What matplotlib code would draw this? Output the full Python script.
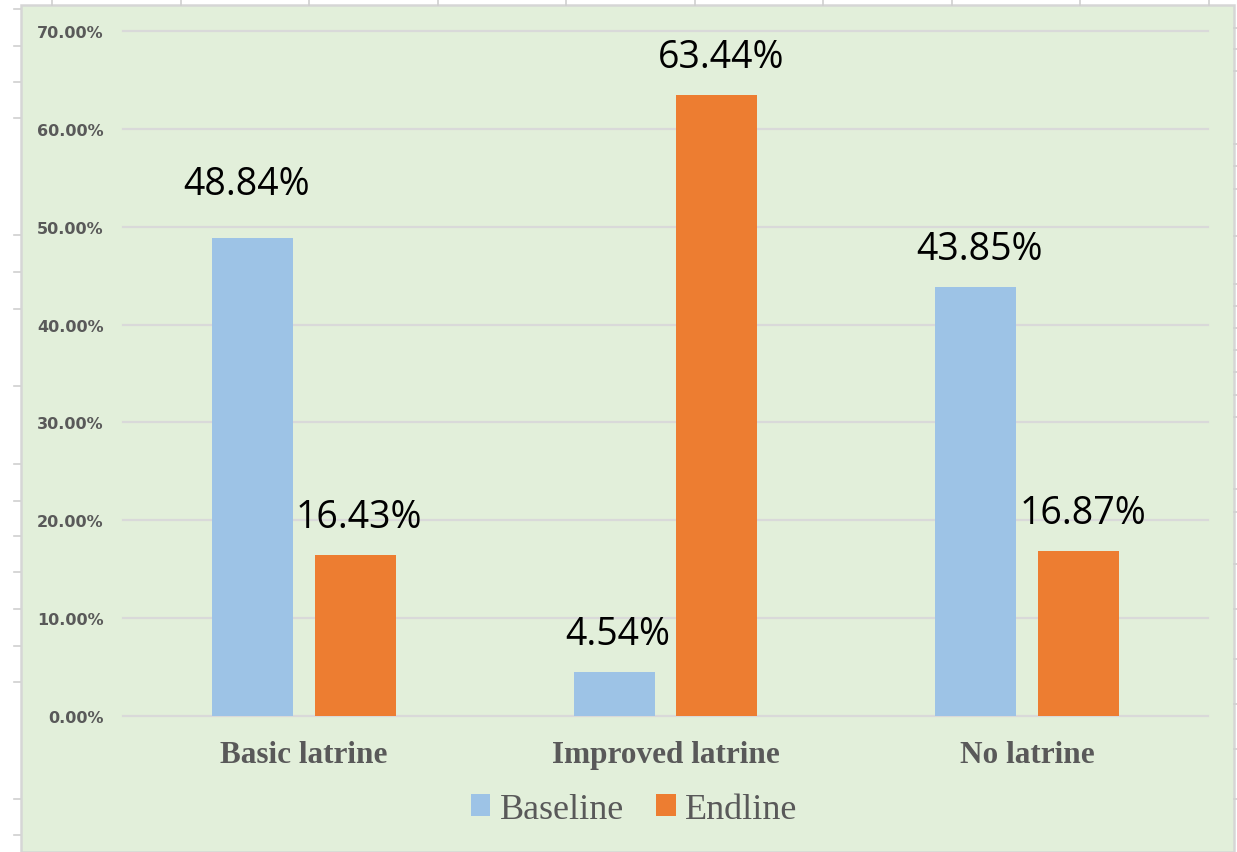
import matplotlib
matplotlib.use("Agg")
import matplotlib.pyplot as plt
from matplotlib.patches import Rectangle
from matplotlib.lines import Line2D
import numpy as np

categories = ["Basic latrine", "Improved latrine", "No latrine"]
baseline = [48.84, 4.54, 43.85]
endline = [16.43, 63.44, 16.87]
yticks = [0, 10, 20, 30, 40, 50, 60, 70]

W, H = 1237, 853
fig = plt.figure(figsize=(W / 100, H / 100), dpi=100)
fig.patch.set_facecolor("white")

def fx(x):
    return x / W

def fy(y):
    return 1 - y / H

# spreadsheet look around the chart
for x in np.arange(52, 1237, 128.5):
    fig.add_artist(Line2D([fx(x)] * 2, [fy(0), fy(6)], color="#d0d0d0", lw=1.2))
for y in [10, 47, 83, 119, 236, 273, 310, 387, 465, 502, 537, 573, 610, 647, 683, 800, 836]:
    fig.add_artist(Line2D([fx(14), fx(20)], [fy(y)] * 2, color="#d0d0d0", lw=1.2))
for y in [29, 50, 72, 145, 167, 190, 237, 285, 307, 329, 351, 373, 396, 418, 490, 513, 565, 610, 660, 705, 750, 800]:
    fig.add_artist(Line2D([fx(1234), fx(1237)], [fy(y)] * 2, color="#d0d0d0", lw=1.2))

fig.add_artist(Rectangle((fx(21), 0), fx(1234) - fx(21), fy(6), transform=fig.transFigure,
                         facecolor="#e2efda", edgecolor="#d6d6d6", lw=1.8, zorder=0))

ax = fig.add_axes([fx(123), fy(717), fx(1208) - fx(123), fy(32) - fy(717)])
ax.set_facecolor("none")

x = np.arange(len(categories))
bw = 0.224
off = 0.142
b1 = ax.bar(x - off, baseline, bw, color="#9dc3e6", label="Baseline", zorder=3)
b2 = ax.bar(x + off, endline, bw, color="#ed7d31", label="Endline", zorder=3)

ax.set_xlim(-0.5, 2.5)
ax.set_ylim(0, 70)
ax.set_yticks(yticks)
ax.set_yticklabels([f"{v:.2f}%" for v in yticks], fontsize=11.5, fontweight="bold", color="#595959")
ax.tick_params(axis="y", length=0, pad=14)
ax.set_xticks(x)
ax.set_xticklabels(categories, fontfamily="Liberation Serif", fontweight="bold", fontsize=22.5, color="#595959")
ax.tick_params(axis="x", length=0, pad=17)
ax.yaxis.grid(True, color="#d9d9d9", lw=1.6, zorder=1)
for gl in ax.get_ygridlines():
    gl.set_clip_on(False)
for s in ax.spines.values():
    s.set_visible(False)

nudge = {(0, 0): (-6, 16)}
for si, (bars, vals) in enumerate([(b1, baseline), (b2, endline)]):
    for ci, (bar, v) in enumerate(zip(bars, vals)):
        dx, dy = nudge.get((si, ci), (4, 0))
        ax.annotate(f"{v:.2f}%", (bar.get_x() + bar.get_width() / 2, v),
                    xytext=(dx * 0.72, (38 + dy) * 0.72), textcoords="offset points",
                    ha="center", va="center", fontsize=27, fontfamily="Open Sans", color="black")

leg = ax.legend(loc="center", bbox_to_anchor=(0.471, -0.136), ncol=2, frameon=False,
                prop={"family": "Liberation Serif", "size": 26}, labelcolor="#595959",
                handlelength=0.55, handleheight=0.55, handletextpad=0.25, columnspacing=0.9)

fig.savefig("out.png", dpi=100, facecolor=fig.get_facecolor())
